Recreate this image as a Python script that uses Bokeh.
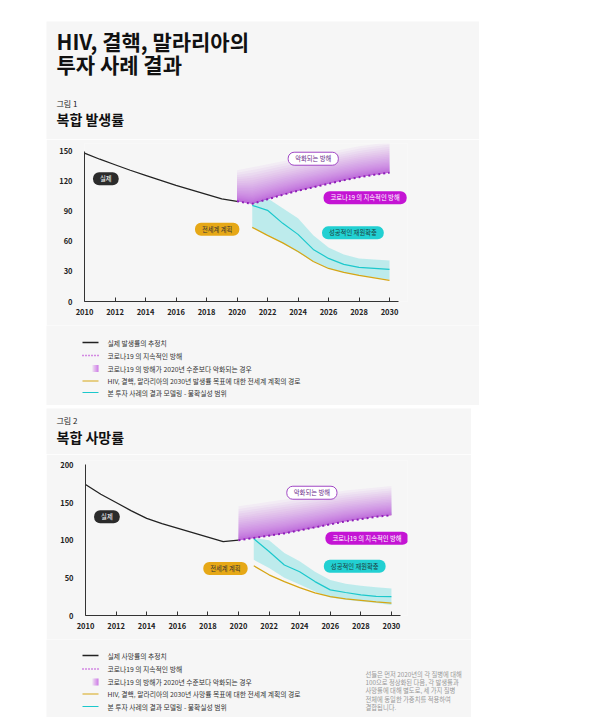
#1. LIBRERÍAS
from bokeh.plotting import figure
from bokeh.layouts import column
from bokeh.models import Range1d, Label, FixedTicker
from bokeh.core.properties import value
from bokeh.embed import file_html
from bokeh.resources import INLINE

FONT = "Noto Sans CJK KR"
BG = "#f6f6f6"
PURPLE = "#b532dc"
CYAN = "#1cc8cc"
GOLD = "#d6a514"
LEFT = 46

#2. DATOS
years_actual = list(range(2010, 2021))
years_proj = list(range(2020, 2031))
years_model = list(range(2021, 2031))

# figura 1 - incidencia
inc_actual = [148, 142, 136.5, 131, 126, 121, 116, 111.5, 107, 102.5, 100]
inc_covid = [100, 97.5, 102, 106.5, 110.5, 114, 117.5, 121, 124, 126.5, 128.5]
inc_worse_top = [131, 134, 137, 140, 143, 146, 149, 152, 155, 157, 159]
inc_center = [96, 91, 78, 67, 52, 43, 37, 34, 33, 32]
inc_upper = [98, 103, 93, 83, 66, 54, 47, 43, 42, 41]
inc_lower = [74, 66, 58, 49, 40, 33, 29, 26, 24, 22]
inc_plan = [74, 66, 58.5, 50, 40, 33, 29, 26, 23.5, 21]

# figura 2 - mortalidad
mort_actual = [174, 161, 150, 139, 129, 122, 116, 110, 104, 98, 100]
mort_covid = [100, 103, 106, 109, 113, 117, 121, 125, 128, 131, 133]
mort_worse_top = [145, 148, 151, 154, 157, 160, 163, 166, 168, 170, 172]
mort_center = [102, 85, 67, 58, 45, 34, 30.5, 27.5, 25.5, 25]
mort_upper = [103, 100, 83, 72, 58, 47, 42, 39.5, 37.5, 36]
mort_lower = [74, 63, 50, 41, 32, 24, 21, 18.5, 16.5, 14]
mort_plan = [66, 54, 45, 37, 30, 25, 22, 20, 18, 16.5]

x_ticks = list(range(2010, 2031, 2))
inc_ticks = [0, 30, 60, 90, 120, 150]
mort_ticks = [0, 50, 100, 150, 200]

legend_common = ["코로나19 의 지속적인 방해",
                 "코로나19 의 방해가 2020년 수준보다 악화되는 경우"]
legend_model = "본 투자 사례의 결과 모델링 - 불확실성 범위"
legend1 = ["실제 발생률의 추정치"] + legend_common + [
    "HIV, 결핵, 말라리아의 2030년 발생률 목표에 대한 전세계 계획의 경로", legend_model]
legend2 = ["실제 사망률의 추정치"] + legend_common + [
    "HIV, 결핵, 말라리아의 2030년 사망률 목표에 대한 전세계 계획의 경로", legend_model]
note_lines = ["선들은 먼저 2020년의 각 질병에 대해",
              "100으로 정상화된 다음, 각 발생률과",
              "사망률에 대해 별도로, 세 가지 질병",
              "전체에 동일한 가중치를 적용하여",
              "결합됩니다."]


#3. FUNCIONES DE APOYO
def canvas(w, h, margin):
    # lienzo en pixeles (y hacia abajo) para titulos y leyendas
    p = figure(width=w, height=h, x_range=Range1d(0, w), y_range=Range1d(h, 0),
               x_axis_type=None, y_axis_type=None, output_backend="svg",
               toolbar_location=None, min_border=0, margin=margin, frame_align=False)
    p.background_fill_color = BG
    p.border_fill_color = BG
    p.outline_line_color = None
    p.grid.visible = False
    return p


def write(p, x, y, txt, size, color="#111", style="normal"):
    p.text(x=[x], y=[y], text=[txt], text_font=value(FONT), text_font_size=size,
           text_font_style=style, text_color=color, text_baseline="middle")


def pill(p, x, y, txt, fill, color, border=None):
    p.add_layout(Label(x=x, y=y, text=txt, text_font=FONT, text_font_size="6.3px",
                       text_color=color, text_align="center", text_baseline="middle",
                       background_fill_color=fill, border_line_color=border,
                       border_line_width=1, border_radius=6,
                       padding=dict(left=7, right=7, top=2, bottom=2)))


def chart(w, h, xend, yend, bounds_top, ticks, actual, covid, worse_top,
          center, upper, lower, plan, border_left, border_right, border_top):
    p = figure(width=w, height=h, x_range=Range1d(2010, xend), y_range=Range1d(0, yend),
               output_backend="svg", toolbar_location=None, margin=(0, 0, 0, LEFT),
               min_border_left=border_left, min_border_right=border_right,
               min_border_top=border_top, min_border_bottom=24, frame_align=False)
    p.background_fill_color = BG
    p.border_fill_color = BG
    p.outline_line_color = None
    p.grid.visible = False

    # banda de incertidumbre
    p.varea(x=years_model, y1=lower, y2=upper, fill_color="#62dadd", fill_alpha=0.38)

    # degradado del escenario que empeora (capas que se aclaran hacia arriba)
    n = 30
    for i in range(n):
        f = ((i + 1) / n) ** 2.4
        top = [c + (t - c) * f for c, t in zip(covid, worse_top)]
        p.varea(x=years_proj, y1=covid, y2=top, fill_color=PURPLE, fill_alpha=0.05)

    p.line(years_model, center, color=CYAN, line_width=1.2)
    p.line(years_model, plan, color=GOLD, line_width=1.2)
    p.line(years_actual, actual, color="#222222", line_width=1.3)
    p.line(years_proj, covid, color="#8e1fb8", line_width=2, line_dash="2 3")

    for ax in (p.xaxis, p.yaxis):
        ax.axis_line_color = "#333333"
        ax.major_label_text_font = FONT
        ax.major_label_text_font_size = "7.5px"
        ax.major_label_text_font_style = "bold"
        ax.major_label_text_color = "#222222"
        ax.minor_tick_line_color = None
    p.xaxis.ticker = FixedTicker(ticks=x_ticks)
    p.xaxis.major_tick_in = 4
    p.xaxis.major_tick_out = 0
    p.xaxis.major_tick_line_color = "#333333"
    p.xaxis.major_label_standoff = 7
    p.xaxis.bounds = (2010, 2030.6)
    p.yaxis.ticker = FixedTicker(ticks=ticks)
    p.yaxis.major_tick_line_color = None
    p.yaxis.major_label_standoff = 6
    p.yaxis.bounds = (0, bounds_top)
    return p


def legend(p, rows, texts):
    x0, x1 = 36, 52
    p.line([x0, x1], [rows[0]] * 2, color="#222222", line_width=1.3)
    p.line([x0, x1], [rows[1]] * 2, color="#b01ecf", line_width=1.6, line_dash="1 2")
    k = 8
    for i in range(k):
        p.quad(left=46 + i * 6 / k, right=46 + (i + 1) * 6 / k, top=rows[2] - 3.5,
               bottom=rows[2] + 3.5, fill_color=PURPLE, fill_alpha=0.15 + 0.6 * i / k,
               line_color=None)
    p.line([x0, x1], [rows[3]] * 2, color=GOLD, line_width=1.2)
    p.line([x0, x1], [rows[4]] * 2, color=CYAN, line_width=1.2)
    for y, t in zip(rows, texts):
        write(p, 61, y, t, "6.8px", "#333333")


#4. SECCIÓN 1 - INCIDENCIA
head1 = canvas(433, 118, (21, 0, 0, LEFT))
write(head1, 10, 19, "HIV, 결핵, 말라리아의", "21px", style="bold")
write(head1, 10, 42, "투자 사례 결과", "21px", style="bold")
write(head1, 10, 82, "그림 1", "8px", "#222222")
write(head1, 10, 97, "복합 발생률", "14px", style="bold")

chart1 = chart(433, 186, 2031.18, 157.7, 150, inc_ticks, inc_actual, inc_covid,
               inc_worse_top, inc_center, inc_upper, inc_lower, inc_plan, 38, 72, 4)
pill(chart1, 2011.4, 122.5, "실제", "#2b2b2b", "white")
pill(chart1, 2025.0, 142.5, "악화되는 방해", "white", "#6a2a8a", "#a046c4")
pill(chart1, 2028.4, 103.5, "코로나19 의 지속적인 방해", "#c414d4", "white")
pill(chart1, 2018.7, 72, "전세계 계획", "#e6a817", "#333333")
pill(chart1, 2027.6, 68.5, "성공적인 재원확충", "#22d0d2", "#1d3d3d")

leg1 = canvas(433, 80, (0, 0, 0, LEFT))
legend(leg1, [17, 30, 43, 55.5, 67], legend1)

#5. SECCIÓN 2 - MORTALIDAD
head2 = canvas(425, 46, (3, 0, 0, LEFT))
write(head2, 10, 12, "그림 2", "8px", "#222222")
write(head2, 10, 28, "복합 사망률", "14px", style="bold")

chart2 = chart(425, 185, 2031.05, 205.8, 200, mort_ticks, mort_actual, mort_covid,
               mort_worse_top, mort_center, mort_upper, mort_lower, mort_plan, 39, 64, 6)
pill(chart2, 2011.4, 131, "실제", "#2b2b2b", "white")
pill(chart2, 2024.8, 163, "악화되는 방해", "white", "#6a2a8a", "#a046c4")
pill(chart2, 2028.4, 102.5, "코로나19 의 지속적인 방해", "#c414d4", "white")
pill(chart2, 2019.15, 62.5, "전세계 계획", "#e6a817", "#333333")
pill(chart2, 2027.6, 65.5, "성공적인 재원확충", "#22d0d2", "#1d3d3d")

leg2 = canvas(425, 78, (0, 0, 0, LEFT))
legend(leg2, [16, 29.5, 42.5, 54.5, 67], legend2)
for i, t in enumerate(note_lines):
    write(leg2, 319, 35 + i * 8.2, t, "6.3px", "#999999")

#6. SALIDA
page = column(head1, chart1, leg1, head2, chart2, leg2, spacing=0)
open("out.html", "w").write(file_html(page, INLINE))
